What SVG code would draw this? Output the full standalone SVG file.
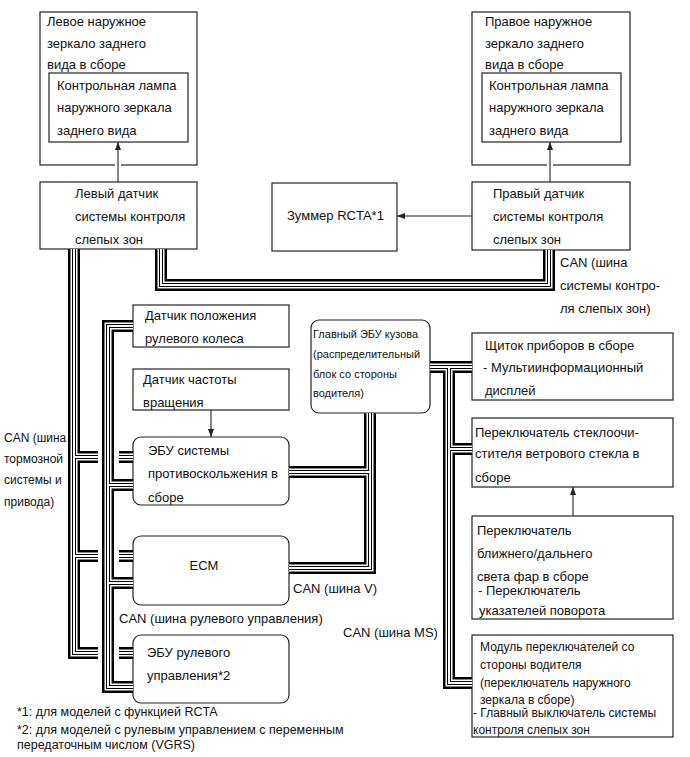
<svg xmlns="http://www.w3.org/2000/svg" xmlns:xlink="http://www.w3.org/1999/xlink" width="690" height="757" viewBox="0 0 690 757">
<style>
.box{fill:#fff;stroke:#222;stroke-width:1.2}
.t{font-family:"Liberation Sans",Arial,sans-serif;font-size:13px;fill:#111}
.s{font-size:11px}
.m{font-size:12px}
.f{font-size:12.5px}
.arrow{stroke:#222;stroke-width:1.1;fill:none;marker-end:url(#ah)}
.gap{stroke:#fff;stroke-width:6;fill:none}
.l1{stroke:#000;stroke-width:12}
.l2{stroke:#fff;stroke-width:7}
.l3{stroke:#000;stroke-width:4}
.l4{stroke:#fff;stroke-width:2}
</style>
<defs>
<marker id="ah" markerWidth="8" markerHeight="6" refX="8" refY="3" orient="auto" markerUnits="userSpaceOnUse">
<path d="M0,0 L8,3 L0,6 z" fill="#222"/>
</marker>
<g id="bus" fill="none">
<path d="M161,249 V285 H549 V250"/>
<path d="M74,249 V653 H98"/>
<path d="M74,457 H98"/>
<path d="M119,457 H133"/>
<path d="M74,556 H98"/>
<path d="M119,556 H133"/>
<path d="M119,653 H133"/>
<path d="M133,326 H108 V687 H133"/>
<path d="M108,485 H133"/>
<path d="M108,583 H133"/>
<path d="M370,413 V568 H289"/>
<path d="M370,472 H289"/>
<path d="M430,367 H472"/>
<path d="M449,367 V683 H472"/>
<path d="M449,449 H472"/>
</g>
</defs>
<rect width="690" height="757" fill="#fff"/>

<g id="left-mirror">
<rect class="box" x="40" y="12" width="157" height="153"/>
<text class="t" x="47" y="26">Левое наружное</text>
<text class="t" x="47" y="48">зеркало заднего</text>
<text class="t" x="47" y="69">вида в сборе</text>
</g>
<g id="left-mirror-lamp">
<rect class="box" x="49" y="73" width="139" height="69"/>
<text class="t" x="57" y="90">Контрольная лампа</text>
<text class="t" x="57" y="112">наружного зеркала</text>
<text class="t" x="57" y="135">заднего вида</text>
</g>
<g id="right-mirror">
<rect class="box" x="472" y="12" width="158" height="153"/>
<text class="t" x="485" y="26">Правое наружное</text>
<text class="t" x="485" y="48">зеркало заднего</text>
<text class="t" x="485" y="69">вида в сборе</text>
</g>
<g id="right-mirror-lamp">
<rect class="box" x="482" y="73" width="139" height="69"/>
<text class="t" x="489" y="90">Контрольная лампа</text>
<text class="t" x="489" y="112">наружного зеркала</text>
<text class="t" x="489" y="135">заднего вида</text>
</g>
<g id="left-sensor">
<rect class="box" x="40" y="182" width="157" height="67"/>
<text class="t" x="75" y="198">Левый датчик</text>
<text class="t" x="75" y="221">системы контроля</text>
<text class="t" x="75" y="244">слепых зон</text>
</g>
<g id="right-sensor">
<rect class="box" x="472" y="182" width="158" height="68"/>
<text class="t" x="493" y="198">Правый датчик</text>
<text class="t" x="493" y="221">системы контроля</text>
<text class="t" x="493" y="244">слепых зон</text>
</g>
<g id="buzzer">
<rect class="box" x="272" y="183" width="125" height="68"/>
<text class="t" x="287" y="220">Зуммер RCTA*1</text>
</g>
<g id="steering-angle-sensor">
<rect class="box" x="133" y="305" width="156" height="42"/>
<text class="t" x="145" y="320">Датчик положения</text>
<text class="t" x="145" y="343">рулевого колеса</text>
</g>
<g id="speed-sensor">
<rect class="box" x="133" y="369" width="156" height="41"/>
<text class="t" x="143" y="384">Датчик частоты</text>
<text class="t" x="143" y="407">вращения</text>
</g>
<g id="skid-ecu">
<rect class="box" x="133" y="437" width="156" height="68" rx="8"/>
<text class="t" x="148" y="455">ЭБУ системы</text>
<text class="t" x="148" y="478">противоскольжения в</text>
<text class="t" x="148" y="502">сборе</text>
</g>
<g id="ecm">
<rect class="box" x="133" y="536" width="156" height="69" rx="8"/>
<text class="t" x="204" y="570" text-anchor="middle">ECM</text>
</g>
<g id="steering-ecu">
<rect class="box" x="133" y="635" width="156" height="68" rx="8"/>
<text class="t" x="147" y="657">ЭБУ рулевого</text>
<text class="t" x="147" y="680">управления*2</text>
</g>
<g id="body-ecu">
<rect class="box" x="311" y="320" width="119" height="93" rx="8"/>
<text class="t s" x="313" y="338">Главный ЭБУ кузова</text>
<text class="t s" x="313" y="358">(распределительный</text>
<text class="t s" x="313" y="378">блок со стороны</text>
<text class="t s" x="313" y="397">водителя)</text>
</g>
<g id="cluster">
<rect class="box" x="472" y="333" width="201" height="67"/>
<text class="t" x="485" y="350">Щиток приборов в сборе</text>
<text class="t" x="483" y="372">- Мультиинформационный</text>
<text class="t" x="485" y="395">дисплей</text>
</g>
<g id="wiper-switch">
<rect class="box" x="472" y="418" width="201" height="69"/>
<text class="t" x="475" y="437">Переключатель стеклоочи-</text>
<text class="t" x="475" y="458">стителя ветрового стекла в</text>
<text class="t" x="475" y="482">сборе</text>
</g>
<g id="headlight-switch">
<rect class="box" x="472" y="516" width="201" height="103"/>
<text class="t" x="477" y="535">Переключатель</text>
<text class="t" x="477" y="558">ближнего/дальнего</text>
<text class="t" x="477" y="581">света фар в сборе</text>
<text class="t" x="478" y="595">- Переключатель</text>
<text class="t" x="479" y="615">указателей поворота</text>
</g>
<g id="driver-switch-module">
<rect class="box" x="472" y="635" width="201" height="102"/>
<text class="t m" x="480" y="651">Модуль переключателей со</text>
<text class="t m" x="480" y="669">стороны водителя</text>
<text class="t m" x="480" y="687">(переключатель наружного</text>
<text class="t m" x="480" y="704">зеркала в сборе)</text>
<text class="t m" x="473" y="717">- Главный выключатель системы</text>
<text class="t m" x="473" y="734">контроля слепых зон</text>
</g>

<g id="connectors">
<use xlink:href="#bus" class="l1"/>
<use xlink:href="#bus" class="l2"/>
<use xlink:href="#bus" class="l3"/>
<use xlink:href="#bus" class="l4"/>
<path class="gap" d="M118,162 V168"/>
<path class="gap" d="M550,162 V168"/>
<path class="arrow" d="M118,182 V142"/>
<path class="arrow" d="M550,182 V142"/>
<path class="arrow" d="M472,216 H397"/>
<path class="arrow" d="M211,410 V437"/>
<path class="arrow" d="M573,516 V487"/>
</g>

<g id="labels">
<text class="t" x="560" y="267">CAN (шина</text>
<text class="t" x="560" y="290">системы контро-</text>
<text class="t" x="560" y="313">ля слепых зон)</text>
<text class="t m" x="4" y="442">CAN (шина</text>
<text class="t m" x="4" y="463">тормозной</text>
<text class="t m" x="4" y="484">системы и</text>
<text class="t m" x="4" y="506">привода)</text>
<text class="t" x="293" y="593">CAN (шина V)</text>
<text class="t" x="119" y="623">CAN (шина рулевого управления)</text>
<text class="t" x="343" y="637">CAN (шина MS)</text>
<text class="t f" x="17" y="716">*1: для моделей с функцией RCTA</text>
<text class="t f" x="17" y="734">*2: для моделей с рулевым управлением с переменным</text>
<text class="t f" x="17" y="749">передаточным числом (VGRS)</text>
</g>
</svg>
